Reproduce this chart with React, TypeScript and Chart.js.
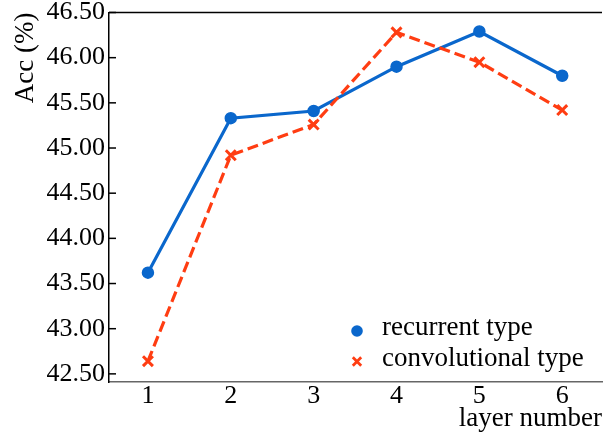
import { useEffect, useRef } from 'react';
import { Chart, registerables } from 'chart.js';

Chart.register(...registerables);

const layers = [1, 2, 3, 4, 5, 6];
const recurrent = [43.62, 45.33, 45.41, 45.9, 46.29, 45.8];
const convolutional = [42.64, 44.92, 45.26, 46.28, 45.95, 45.42];
const yTickValues = [42.5, 43.0, 43.5, 44.0, 44.5, 45.0, 45.5, 46.0, 46.5];
const seriesLabels = ['recurrent type', 'convolutional type'];
const xTitle = 'layer number';
const yTitle = 'Acc (%)';

const BLUE = '#0a67cc';
const RED = '#ff3d12';
const FONT = "'Liberation Serif', 'Times New Roman', serif";

const framePlugin = {
  id: 'framePlugin',
  afterDraw(chart: any) {
    const { ctx, chartArea: a, scales } = chart;
    ctx.save();
    // top spine
    ctx.strokeStyle = '#000';
    ctx.lineWidth = 1.5;
    ctx.beginPath();
    ctx.moveTo(a.left, a.top);
    ctx.lineTo(a.right, a.top);
    ctx.stroke();
    // inward y ticks
    scales.y.ticks.forEach((t: any) => {
      const py = scales.y.getPixelForValue(t.value);
      ctx.beginPath();
      ctx.moveTo(a.left, py);
      ctx.lineTo(a.left + 7, py);
      ctx.stroke();
    });
    // legend
    const mx = a.right - 245;
    const tx = a.right - 220;
    const rows = [a.bottom - 51, a.bottom - 20.5];
    ctx.font = `27px ${FONT}`;
    ctx.textBaseline = 'middle';
    ctx.textAlign = 'left';
    chart.data.datasets.forEach((ds: any, i: number) => {
      const y = rows[i];
      if (ds.pointStyle === 'circle') {
        ctx.fillStyle = ds.pointBackgroundColor;
        ctx.beginPath();
        ctx.arc(mx, y, 5.8, 0, Math.PI * 2);
        ctx.fill();
      } else {
        ctx.strokeStyle = ds.pointBorderColor;
        ctx.lineWidth = 2.8;
        const r = 4.2;
        ctx.beginPath();
        ctx.moveTo(mx - r, y - r);
        ctx.lineTo(mx + r, y + r);
        ctx.moveTo(mx + r, y - r);
        ctx.lineTo(mx - r, y + r);
        ctx.stroke();
      }
      ctx.fillStyle = '#000';
      ctx.fillText(ds.label, tx, y - 3);
    });
    ctx.restore();
  },
};

export default function App() {
  const ref = useRef<HTMLCanvasElement | null>(null);

  useEffect(() => {
    document.body.style.margin = '0';
    const canvas = ref.current;
    if (!canvas) return;
    const chart = new Chart(canvas, {
      type: 'line',
      data: {
        datasets: [
          {
            label: seriesLabels[0],
            data: layers.map((x, i) => ({ x, y: recurrent[i] })),
            borderColor: BLUE,
            backgroundColor: BLUE,
            pointBackgroundColor: BLUE,
            pointBorderColor: BLUE,
            borderWidth: 3.2,
            pointStyle: 'circle',
            pointRadius: 5.5,
            pointBorderWidth: 1.5,
            tension: 0,
            order: 1,
          },
          {
            label: seriesLabels[1],
            data: layers.map((x, i) => ({ x, y: convolutional[i] })),
            borderColor: RED,
            backgroundColor: RED,
            pointBackgroundColor: RED,
            pointBorderColor: RED,
            borderWidth: 3.2,
            borderDash: [11, 5],
            pointStyle: 'crossRot',
            pointRadius: 7,
            pointBorderWidth: 3,
            tension: 0,
            order: 0,
          },
        ],
      },
      options: {
        responsive: false,
        animation: false,
        layout: { autoPadding: false, padding: { top: 12.5, right: 1, left: 0, bottom: 0 } },
        plugins: {
          legend: { display: false },
          tooltip: { enabled: false },
        },
        scales: {
          x: {
            type: 'linear',
            min: 0.53,
            max: 6.48,
            afterBuildTicks: (scale: any) => {
              scale.ticks = layers.map((v) => ({ value: v }));
            },
            afterFit: (scale: any) => {
              scale.height = 54;
              scale.paddingLeft = 0;
              scale.paddingRight = 0;
            },
            grid: { display: false, drawTicks: false },
            border: { display: true, color: '#666', width: 1.5 },
            ticks: {
              color: '#000',
              padding: 1,
              font: { family: FONT, size: 26, lineHeight: 1 },
              maxRotation: 0,
              callback: (v: any) => String(v),
            },
            title: {
              display: true,
              text: xTitle,
              align: 'end',
              color: '#000',
              font: { family: FONT, size: 27, lineHeight: 1.2 },
              padding: { top: 0, bottom: 1 },
            },
          },
          y: {
            type: 'linear',
            min: 42.41,
            max: 46.5,
            afterBuildTicks: (scale: any) => {
              scale.ticks = yTickValues.map((v) => ({ value: v }));
            },
            afterFit: (scale: any) => {
              scale.width = 109;
              scale.paddingTop = 0;
              scale.paddingBottom = 0;
            },
            grid: { display: false, drawTicks: false },
            border: { display: true, color: '#000', width: 1.5 },
            ticks: {
              color: '#000',
              padding: 4,
              font: { family: FONT, size: 26, lineHeight: 1 },
              callback: (v: any) => Number(v).toFixed(2),
            },
            title: {
              display: true,
              text: yTitle,
              align: 'end',
              color: '#000',
              font: { family: FONT, size: 27, lineHeight: 1.2 },
              padding: { top: 9.6, bottom: 0 },
            },
          },
        },
      },
      plugins: [framePlugin],
    } as any);
    return () => chart.destroy();
  }, []);

  return (
    <div style={{ width: 603, height: 436 }}>
      <canvas ref={ref} width={603} height={436} style={{ display: 'block' }} />
    </div>
  );
}
